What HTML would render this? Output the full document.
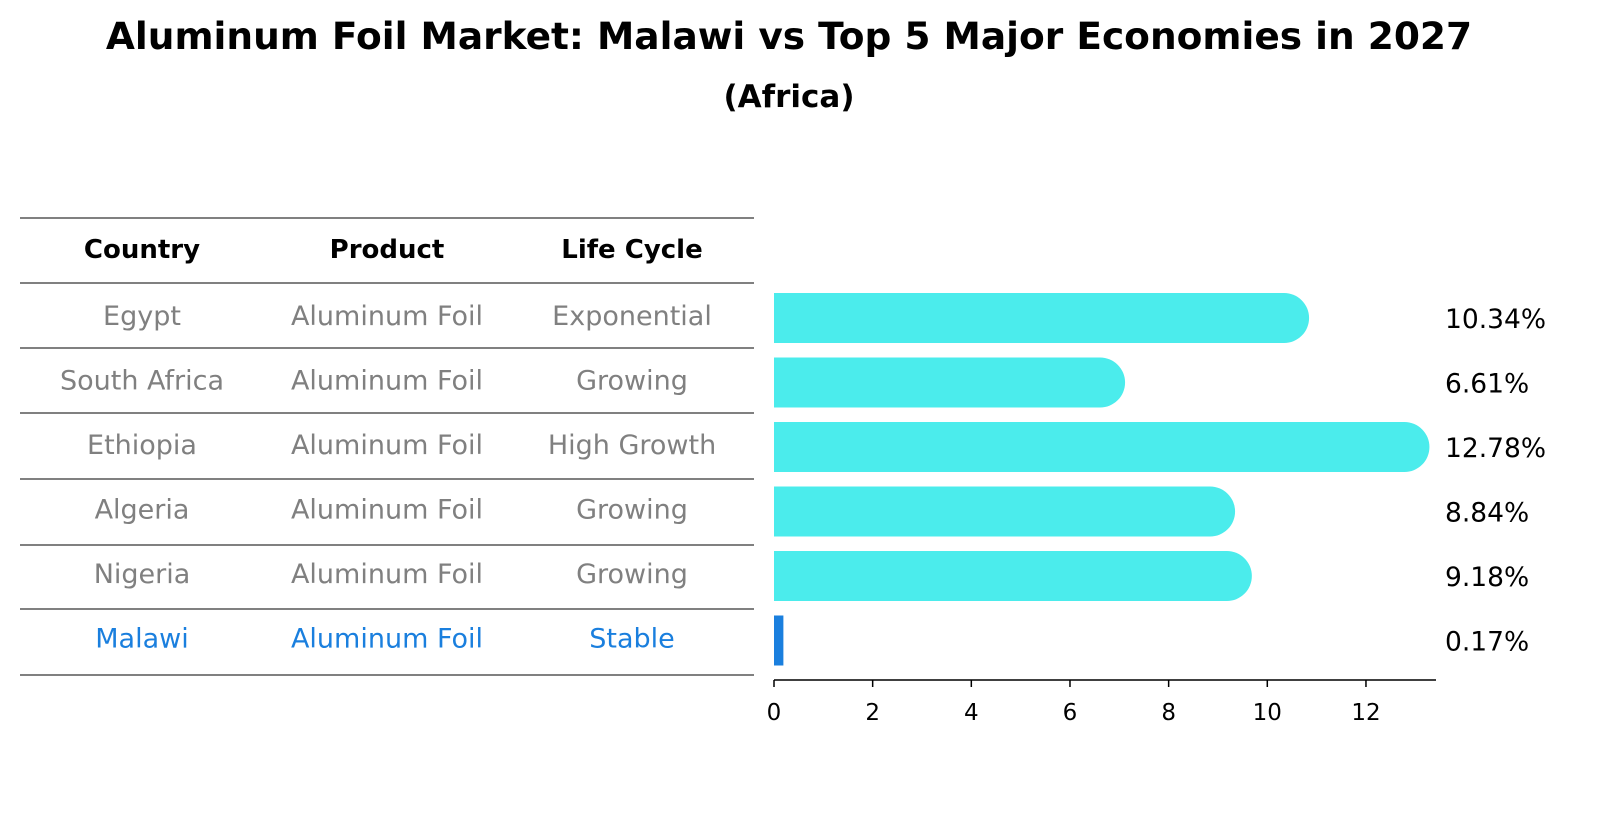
<!DOCTYPE html>
<html><head><meta charset="utf-8"><style>
body{margin:0;background:#fff;font-family:"DejaVu Sans","Liberation Sans",sans-serif;}
svg text{font-family:"DejaVu Sans","Liberation Sans",sans-serif;}
</style></head><body>
<svg id="c" width="1604" height="823" xmlns="http://www.w3.org/2000/svg">
<rect width="1604" height="823" fill="#fff"/>
<text x="789" y="49" text-anchor="middle" font-size="37.5" font-weight="bold">Aluminum Foil Market: Malawi vs Top 5 Major Economies in 2027</text>
<text x="789" y="107" text-anchor="middle" font-size="31" font-weight="bold">(Africa)</text>
<g id="table"></g>
<g id="bars"></g>
</svg>
<script>
const countries=["Egypt","South Africa","Ethiopia","Algeria","Nigeria","Malawi"];
const products=["Aluminum Foil","Aluminum Foil","Aluminum Foil","Aluminum Foil","Aluminum Foil","Aluminum Foil"];
const lifeCycles=["Exponential","Growing","High Growth","Growing","Growing","Stable"];
const values=[10.34,6.61,12.78,8.84,9.18,0.17];
const valueLabels=["10.34%","6.61%","12.78%","8.84%","9.18%","0.17%"];
const ticks=[0,2,4,6,8,10,12];
const NS="http://www.w3.org/2000/svg";
function mk(t,a,p,txt){const e=document.createElementNS(NS,t);for(const k in a)e.setAttribute(k,a[k]);if(txt!==undefined)e.textContent=txt;p.appendChild(e);return e;}
const x=v=>774+v*49.33;
const rowY=i=>318+i*64.5;
const tb=document.getElementById('table');
const cols=[142,387,632];
[218,283,348,413,479,545,609,675].forEach((y,i)=>{
 const l=mk('line',{x1:20,x2:754,y1:y,y2:y,stroke:'#000','stroke-width':1},tb);
 
 
});
["Country","Product","Life Cycle"].forEach((h,j)=>{
 const t=mk('text',{x:cols[j],y:258,'text-anchor':'middle','font-size':26,'font-weight':'bold'},tb,h);
 
 
});
countries.forEach((c,i)=>{
 const col=c==="Malawi"?"#1a7fde":"#808080";
 [c,products[i],lifeCycles[i]].forEach((s,j)=>{
  const t=mk('text',{x:cols[j],y:rowY(i)+7,'text-anchor':'middle','font-size':27,fill:col},tb,s);
  
  
 });
});
const bg=document.getElementById('bars');
values.forEach((v,i)=>{
 const cy=rowY(i);
 if(countries[i]==="Malawi"){
  const r=mk('rect',{x:x(0),y:cy-25,width:Math.max(x(v)-x(0)+1,2),height:50,fill:'#1a7fde'},bg);
  
  
 }else{
  const p=mk('path',{d:`M${x(0)},${cy-25}H${x(v)}A25,25 0 0 1 ${x(v)},${cy+25}H${x(0)}Z`,fill:'#4becec'},bg);
  
  
 }
 const t=mk('text',{x:1445,y:cy+10,'font-size':26.5},bg,valueLabels[i]);
 
 
});
const ax=mk('line',{x1:x(0),x2:1436,y1:680,y2:680,stroke:'#000','stroke-width':1.5},bg);


ticks.forEach(v=>{
 const l=mk('line',{x1:x(v),x2:x(v),y1:680,y2:687,stroke:'#000','stroke-width':1.5},bg);
 
 
 const t=mk('text',{x:x(v),y:720,'text-anchor':'middle','font-size':23},bg,String(v));
 
 
});
</script>
</body></html>
